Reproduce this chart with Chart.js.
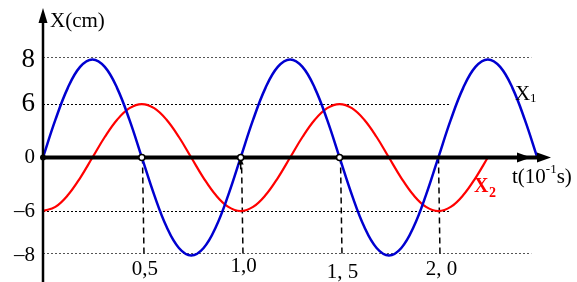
<!DOCTYPE html>
<html>
<head>
<meta charset="utf-8">
<script src="https://cdn.jsdelivr.net/npm/chart.js@4/dist/chart.umd.min.js"></script>
<style>
  html, body { margin: 0; padding: 0; background: #fff; }
</style>
</head>
<body>
<canvas id="osc" width="577" height="282"></canvas>
<script>
// time in units of 10^-1 s
const tValues = [0, 0.0625, 0.125, 0.1875, 0.25, 0.3125, 0.375, 0.4375,
                 0.5, 0.5625, 0.625, 0.6875, 0.75, 0.8125, 0.875, 0.9375,
                 1, 1.0625, 1.125, 1.1875, 1.25, 1.3125, 1.375, 1.4375,
                 1.5, 1.5625, 1.625, 1.6875, 1.75, 1.8125, 1.875, 1.9375,
                 2, 2.0625, 2.125, 2.1875, 2.25, 2.3125, 2.375, 2.4375, 2.5];
// X1 (cm), blue
const x1Values = [0, 3.06, 5.66, 7.39, 8, 7.39, 5.66, 3.06,
                  0, -3.06, -5.66, -7.39, -8, -7.39, -5.66, -3.06,
                  0, 3.06, 5.66, 7.39, 8, 7.39, 5.66, 3.06,
                  0, -3.06, -5.66, -7.39, -8, -7.39, -5.66, -3.06,
                  0, 3.06, 5.66, 7.39, 8, 7.39, 5.66, 3.06, 0];
// X2 (cm), red - stops at t = 2.25
const x2Values = [-6, -5.54, -4.24, -2.3, 0, 2.3, 4.24, 5.54,
                  6, 5.54, 4.24, 2.3, 0, -2.3, -4.24, -5.54,
                  -6, -5.54, -4.24, -2.3, 0, 2.3, 4.24, 5.54,
                  6, 5.54, 4.24, 2.3, 0, -2.3, -4.24, -5.54,
                  -6, -5.54, -4.24, -2.3, 0];

const x1Ticks = [8, 0, -8];
const x2Ticks = [6, -6];
const tTickValues = [0.5, 1, 1.5, 2];
const tTickLabels = ['0,5', '1,0', '1, 5', '2, 0'];
const markedPoints = [0.5, 1, 1.5];

const SERIF = "'Liberation Serif', 'Times New Roman', serif";

function toPoints(values) {
    return values.map((v, i) => ({ x: tValues[i], y: v }));
}

function arrowHead(ctx, x, y, dir, len, half) {
    ctx.beginPath();
    if (dir === 'up') {
        ctx.moveTo(x, y);
        ctx.lineTo(x - half, y + len);
        ctx.lineTo(x + half, y + len);
    } else {
        ctx.moveTo(x, y);
        ctx.lineTo(x - len, y - half);
        ctx.lineTo(x - len, y + half);
    }
    ctx.closePath();
    ctx.fill();
}

const decorations = {
    id: 'decorations',
    beforeDatasetsDraw(chart) {
        const ctx = chart.ctx;
        const xs = chart.scales.x, y1 = chart.scales.y, y2 = chart.scales.y2;
        const left = xs.getPixelForValue(0);
        ctx.save();
        ctx.lineWidth = 1;
        // dotted reference lines
        ctx.setLineDash([2, 2]);
        x1Ticks.filter(v => v !== 0).forEach(v => {
            const py = Math.round(y1.getPixelForValue(v)) - 1.5;
            ctx.strokeStyle = '#555';
            ctx.beginPath();
            ctx.moveTo(left, py);
            ctx.lineTo(xs.getPixelForValue(2.47), py);
            ctx.stroke();
        });
        x2Ticks.forEach(v => {
            const py = Math.round(y2.getPixelForValue(v)) + 0.5;
            ctx.strokeStyle = '#000';
            ctx.beginPath();
            ctx.moveTo(left, py);
            ctx.lineTo(xs.getPixelForValue(2.06), py);
            ctx.stroke();
        });
        // dashed drop lines
        ctx.setLineDash([6, 4]);
        ctx.lineWidth = 1.5;
        ctx.strokeStyle = '#000';
        tTickValues.forEach(v => {
            const px = Math.round(xs.getPixelForValue(v)) + 0.5;
            ctx.beginPath();
            ctx.moveTo(px, y1.getPixelForValue(0));
            ctx.lineTo(px + 1.5, y1.getPixelForValue(-8));
            ctx.stroke();
        });
        ctx.restore();
    },
    afterDatasetsDraw(chart) {
        const ctx = chart.ctx;
        const xs = chart.scales.x, y1 = chart.scales.y;
        const ox = xs.getPixelForValue(0);
        const oy = y1.getPixelForValue(0);
        ctx.save();
        ctx.strokeStyle = '#000';
        ctx.fillStyle = '#000';
        // vertical axis
        ctx.lineWidth = 2.5;
        ctx.beginPath();
        ctx.moveTo(ox, chart.height);
        ctx.lineTo(ox, 20);
        ctx.stroke();
        arrowHead(ctx, ox, 8, 'up', 15, 4.5);
        // horizontal axis
        ctx.lineWidth = 4;
        ctx.beginPath();
        ctx.moveTo(ox, oy);
        ctx.lineTo(540, oy);
        ctx.stroke();
        arrowHead(ctx, 531, oy, 'right', 14, 5);
        arrowHead(ctx, 551, oy, 'right', 14, 5);
        // origin dot
        ctx.beginPath();
        ctx.arc(ox, oy, 3, 0, Math.PI * 2);
        ctx.fill();
        // little arrow at t = 1
        const p1 = xs.getPixelForValue(1);
        ctx.lineWidth = 1.5;
        ctx.beginPath();
        ctx.moveTo(p1, oy + 2);
        ctx.lineTo(p1, oy + 12);
        ctx.stroke();
        arrowHead(ctx, p1, oy + 1, 'up', 6, 3);
        // open circles where X1 crosses zero
        ctx.lineWidth = 1.5;
        ctx.fillStyle = '#fff';
        markedPoints.forEach(v => {
            ctx.beginPath();
            ctx.arc(xs.getPixelForValue(v), oy, 3, 0, Math.PI * 2);
            ctx.fill();
            ctx.stroke();
        });
        // t tick labels
        ctx.fillStyle = '#000';
        ctx.font = '21px ' + SERIF;
        ctx.textAlign = 'center';
        ctx.textBaseline = 'middle';
        tTickValues.forEach((v, i) => {
            const dy = [0, -3, 3, 0][i];
            ctx.fillText(tTickLabels[i], xs.getPixelForValue(v) + 3, 269 + dy);
        });
        // axis titles
        ctx.textAlign = 'left';
        ctx.font = '21px ' + SERIF;
        ctx.fillText('X(cm)', 50, 21);
        ctx.fillText('t(10', 512, 177);
        let w = ctx.measureText('t(10').width;
        ctx.font = '13px ' + SERIF;
        ctx.fillText('-1', 512 + w, 170);
        let w2 = ctx.measureText('-1').width;
        ctx.font = '21px ' + SERIF;
        ctx.fillText('s)', 512 + w + w2, 177);
        // series labels
        ctx.fillText('X', 515, 94);
        ctx.font = '13px ' + SERIF;
        ctx.fillText('1', 530, 99);
        ctx.fillStyle = '#ff0000';
        ctx.font = 'bold 20px ' + SERIF;
        ctx.fillText('X', 474, 187);
        ctx.font = 'bold 14px ' + SERIF;
        ctx.fillText('2', 489, 193);
        ctx.restore();
    }
};

function fitAxis(axis, width) {
    axis.width = width;
    axis.paddingTop = 0;
    axis.paddingBottom = 0;
    // labels of a zero-width axis must not be clipped to its box
    axis._computeLabelArea = () => undefined;
}

const tickFont = c => ({ family: SERIF, size: c.tick && c.tick.value > 0 ? 27 : 21 });
const tickLabel = v => v < 0 ? '\u2013' + Math.abs(v) : String(v);

new Chart(document.getElementById('osc'), {
    type: 'line',
    data: {
        datasets: [
            {
                label: 'X1',
                data: toPoints(x1Values),
                yAxisID: 'y',
                borderColor: '#0000d0',
                borderWidth: 2.5,
                pointRadius: 0,
                tension: 0.4,
                fill: false
            },
            {
                label: 'X2',
                data: toPoints(x2Values),
                yAxisID: 'y2',
                borderColor: '#ff0000',
                borderWidth: 2.2,
                pointRadius: 0,
                tension: 0.4,
                fill: false
            }
        ]
    },
    plugins: [decorations],
    options: {
        responsive: false,
        animation: false,
        maintainAspectRatio: false,
        layout: { padding: { top: 8, right: 20, bottom: 0, left: 0 } },
        plugins: {
            legend: { display: false },
            tooltip: { enabled: false }
        },
        scales: {
            x: {
                type: 'linear',
                min: 0,
                max: 2.6,
                display: false
            },
            y: {
                type: 'linear',
                position: 'left',
                weight: 1,
                min: -10.17,
                max: 12.2,
                border: { display: false },
                grid: { display: false, drawTicks: false },
                afterBuildTicks: axis => { axis.ticks = x1Ticks.map(v => ({ value: v })); },
                afterFit: axis => fitAxis(axis, 43),
                ticks: { padding: 8, color: '#000', font: tickFont, callback: tickLabel }
            },
            y2: {
                type: 'linear',
                position: 'left',
                weight: 0,
                min: -13.96,
                max: 16.77,
                border: { display: false },
                grid: { display: false, drawTicks: false },
                afterBuildTicks: axis => { axis.ticks = x2Ticks.map(v => ({ value: v })); },
                afterFit: axis => fitAxis(axis, 0),
                ticks: { padding: 8, color: '#000', font: tickFont, callback: tickLabel }
            }
        }
    }
});
</script>
</body>
</html>
